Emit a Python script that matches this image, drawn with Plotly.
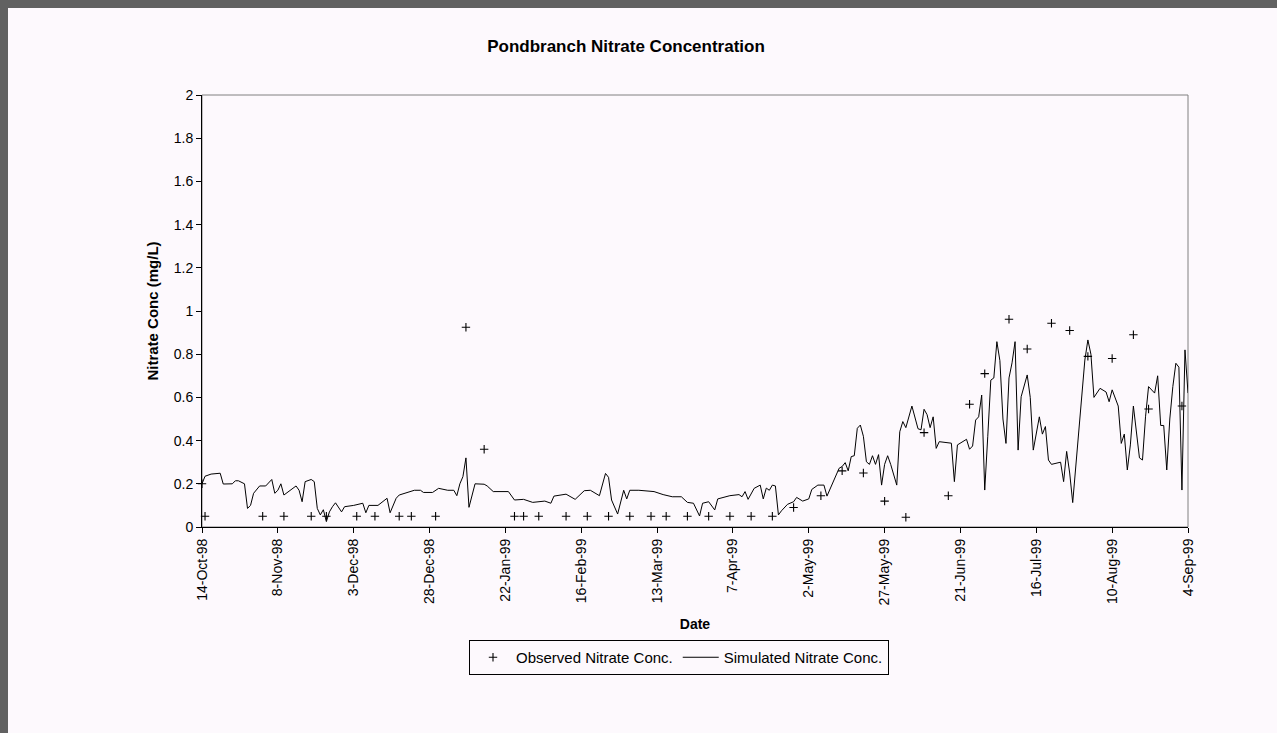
import plotly.graph_objects as go
import pandas as pd

start_date = "1998-10-14"

tick_dates = ["1998-10-14", "1998-11-08", "1998-12-03", "1998-12-28", "1999-01-22",
              "1999-02-16", "1999-03-13", "1999-04-07", "1999-05-02", "1999-05-27",
              "1999-06-21", "1999-07-16", "1999-08-10", "1999-09-04"]
tick_labels = ["14-Oct-98", "8-Nov-98", "3-Dec-98", "28-Dec-98", "22-Jan-99",
               "16-Feb-99", "13-Mar-99", "7-Apr-99", "2-May-99", "27-May-99",
               "21-Jun-99", "16-Jul-99", "10-Aug-99", "4-Sep-99"]

obs_dates = ["1998-10-14", "1998-10-15", "1998-11-03", "1998-11-10", "1998-11-19", "1998-11-24",
             "1998-12-04", "1998-12-10", "1998-12-18", "1998-12-22", "1998-12-30",
             "1999-01-09", "1999-01-15", "1999-01-25", "1999-01-28", "1999-02-02",
             "1999-02-11", "1999-02-18", "1999-02-25", "1999-03-04", "1999-03-11",
             "1999-03-16", "1999-03-23", "1999-03-30", "1999-04-06", "1999-04-13",
             "1999-04-20", "1999-04-27", "1999-05-06", "1999-05-13", "1999-05-20",
             "1999-05-27", "1999-06-03", "1999-06-09", "1999-06-17", "1999-06-24",
             "1999-06-29", "1999-07-07", "1999-07-13", "1999-07-21", "1999-07-27",
             "1999-08-02", "1999-08-10", "1999-08-17", "1999-08-22", "1999-09-02"]
obs_values = [0.20, 0.05, 0.05, 0.05, 0.05, 0.05,
              0.05, 0.05, 0.05, 0.05, 0.05,
              0.925, 0.36, 0.05, 0.05, 0.05,
              0.05, 0.05, 0.05, 0.05, 0.05,
              0.05, 0.05, 0.05, 0.05, 0.05,
              0.05, 0.09, 0.145, 0.26, 0.25,
              0.12, 0.045, 0.437, 0.145, 0.568,
              0.71, 0.962, 0.824, 0.943, 0.91,
              0.79, 0.78, 0.89, 0.546, 0.56]

# simulated series: day offset from 14-Oct-98 and value (mg/L)
sim_days = [0, 1, 3, 6, 7, 10, 11, 12, 14, 15, 16, 17, 19, 21, 23, 24, 25, 26, 27, 29,
            31, 32, 33, 34, 36, 37, 38, 39, 40, 41, 42, 43, 44, 46, 47, 50, 53, 54, 55, 58,
            61, 62, 64, 65, 67, 70, 72, 73, 76, 78, 81, 83, 84, 85, 86, 87, 88, 89, 90, 93,
            94, 96, 101, 103, 106, 109, 113, 115, 116, 120, 123, 126, 128, 131, 133, 134, 135, 137, 138, 139,
            140, 141, 144, 149, 152, 155, 158, 160, 162, 164, 165, 167, 169, 170, 174, 177, 178, 179, 180, 182,
            184, 185, 186, 187, 188, 189, 190, 191, 193, 195, 196, 198, 200, 201, 203, 205, 206, 208, 210, 211,
            212, 213, 214, 215, 216, 217, 218, 219, 220, 221, 222, 223, 224, 225, 226, 227, 229, 230, 231, 232,
            234, 236, 237, 238, 239, 240, 241, 242, 243, 247, 248, 249, 251, 252, 253, 254, 255, 256, 257, 258,
            259, 260, 261, 262, 263, 264, 265, 266, 267, 268, 269, 270, 272, 273, 274, 275, 276, 277, 278, 279,
            280, 283, 284, 285, 286, 287, 288, 289, 290, 291, 292, 293, 294, 296, 298, 299, 300, 302, 303, 304,
            305, 306, 307, 309, 310, 311, 312, 314, 315, 316, 317, 318, 319, 320, 321, 322, 323, 324, 325]
sim_values = [0.20, 0.235, 0.245, 0.249, 0.199, 0.20, 0.214, 0.214, 0.20, 0.086, 0.10, 0.156, 0.19, 0.19, 0.22, 0.156, 0.17, 0.20, 0.148, 0.17,
              0.19, 0.17, 0.117, 0.21, 0.22, 0.21, 0.086, 0.056, 0.08, 0.025, 0.07, 0.094, 0.112, 0.07, 0.094, 0.10, 0.11, 0.066, 0.10, 0.10,
              0.133, 0.066, 0.133, 0.148, 0.156, 0.17, 0.17, 0.16, 0.16, 0.179, 0.17, 0.17, 0.145, 0.20, 0.233, 0.32, 0.091, 0.14, 0.20, 0.198,
              0.19, 0.164, 0.164, 0.125, 0.128, 0.114, 0.12, 0.11, 0.143, 0.152, 0.128, 0.168, 0.17, 0.145, 0.248, 0.23, 0.125, 0.06, 0.11, 0.17,
              0.13, 0.17, 0.17, 0.164, 0.15, 0.14, 0.14, 0.114, 0.11, 0.051, 0.11, 0.117, 0.079, 0.13, 0.145, 0.15, 0.14, 0.164, 0.128, 0.179,
              0.194, 0.13, 0.18, 0.17, 0.194, 0.19, 0.056, 0.075, 0.105, 0.117, 0.137, 0.12, 0.13, 0.174, 0.194, 0.194, 0.143, 0.21, 0.272, 0.28,
              0.298, 0.26, 0.326, 0.33, 0.457, 0.472, 0.42, 0.302, 0.29, 0.33, 0.29, 0.335, 0.194, 0.29, 0.33, 0.29, 0.194, 0.441, 0.488, 0.46,
              0.56, 0.455, 0.45, 0.545, 0.52, 0.46, 0.51, 0.364, 0.395, 0.388, 0.21, 0.38, 0.395, 0.406, 0.36, 0.375, 0.495, 0.51, 0.611, 0.171,
              0.42, 0.68, 0.69, 0.858, 0.77, 0.50, 0.387, 0.69, 0.76, 0.858, 0.356, 0.603, 0.704, 0.60, 0.356, 0.441, 0.51, 0.43, 0.465, 0.31,
              0.29, 0.30, 0.21, 0.35, 0.25, 0.113, 0.28, 0.472, 0.60, 0.773, 0.866, 0.80, 0.60, 0.642, 0.625, 0.58, 0.635, 0.56, 0.387, 0.43,
              0.264, 0.38, 0.56, 0.32, 0.31, 0.51, 0.65, 0.62, 0.70, 0.47, 0.47, 0.264, 0.50, 0.65, 0.758, 0.74, 0.171, 0.82, 0.62]

y_ticks = [0, 0.2, 0.4, 0.6, 0.8, 1, 1.2, 1.4, 1.6, 1.8, 2]

sim_dates = pd.to_datetime(start_date) + pd.to_timedelta(sim_days, unit="D")

FONT = "Liberation Sans, Arial, sans-serif"
BG = "#fdf9fd"

fig = go.Figure()
fig.add_trace(go.Scatter(
    x=pd.to_datetime(obs_dates), y=obs_values, mode="markers",
    name="Observed Nitrate Conc.",
    marker=dict(symbol="cross-thin", size=6, line=dict(color="black", width=1.1)),
    cliponaxis=False,
))
fig.add_trace(go.Scatter(
    x=sim_dates, y=sim_values, mode="lines",
    name="Simulated Nitrate Conc.",
    line=dict(color="black", width=1),
))

W, H = 1277, 733
L, R, T, B = 202, 1188, 95, 527

def px_x(p):
    return (p - L) / (R - L)

def px_y(p):
    return (B - p) / (B - T)

fig.update_layout(
    width=W, height=H,
    margin=dict(l=L, r=W - R, t=T, b=H - B, autoexpand=False),
    paper_bgcolor=BG, plot_bgcolor=BG,
    font=dict(family=FONT, size=13, color="black"),
    title=dict(text="<b>Pondbranch Nitrate Concentration</b>",
               font=dict(family=FONT, size=17, color="black"),
               x=626 / W, xanchor="center", y=1 - 46 / H, yanchor="middle"),
    showlegend=True,
    legend=dict(orientation="h", x=px_x(679), xanchor="center", y=px_y(640), yanchor="top",
                bgcolor=BG, bordercolor="black", borderwidth=1,
                font=dict(family=FONT, size=15, color="black"),
                itemwidth=36, tracegroupgap=0),
    xaxis=dict(
        type="date",
        range=[tick_dates[0], tick_dates[-1]],
        tickvals=tick_dates, ticktext=tick_labels, tickangle=-90,
        ticks="outside", ticklen=5, tickcolor="black", tickwidth=1,
        showline=True, linecolor="black", linewidth=1,
        showgrid=False, zeroline=False,
        tickfont=dict(family=FONT, size=14, color="black"),
        title=dict(text="<b>Date</b>", font=dict(family=FONT, size=14, color="black"), standoff=14),
    ),
    yaxis=dict(
        range=[0, 2], tickvals=y_ticks,
        ticks="outside", ticklen=5, tickcolor="black", tickwidth=1,
        showline=True, linecolor="black", linewidth=1,
        showgrid=False, zeroline=False,
        tickfont=dict(family=FONT, size=14, color="black"),
        title=dict(text="<b>Nitrate Conc (mg/L)</b>", font=dict(family=FONT, size=15, color="black"), standoff=11),
    ),
    shapes=[
        dict(type="rect", xref="paper", yref="paper", x0=0, x1=1, y0=0, y1=1,
             line=dict(color="#808080", width=1), layer="below"),
        dict(type="rect", xref="paper", yref="paper", x0=px_x(-5), x1=px_x(8), y0=px_y(H + 5), y1=px_y(-5),
             line=dict(width=0), fillcolor="#616161", layer="above"),
        dict(type="rect", xref="paper", yref="paper", x0=px_x(-5), x1=px_x(W + 5), y0=px_y(8), y1=px_y(-5),
             line=dict(width=0), fillcolor="#616161", layer="above"),
    ],
)

fig.write_html("out.html")
